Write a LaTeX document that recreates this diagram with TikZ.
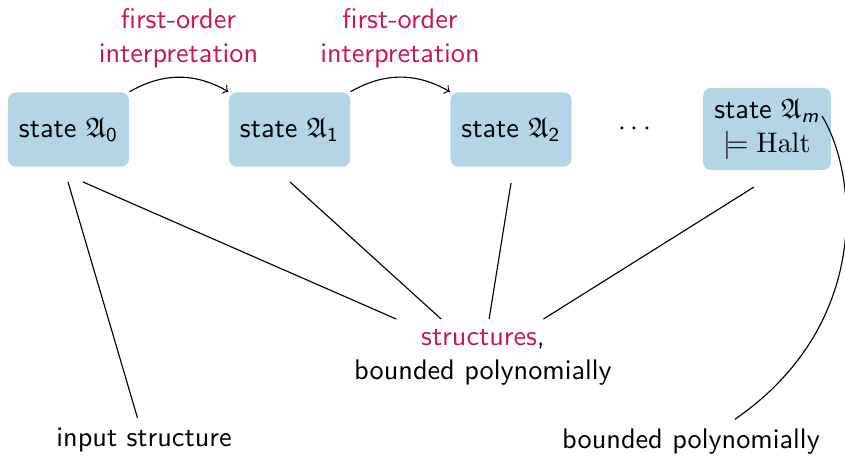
\documentclass[tikz,border=0pt]{standalone}
\usepackage{amsmath,amssymb}
\definecolor{mag}{RGB}{200,22,90}
\definecolor{boxblue}{RGB}{179,213,230}
\begin{document}
\begin{tikzpicture}[x=0.3535pt,y=-0.3535pt,
  every node/.style={font=\sffamily},
  statebox/.style={fill=boxblue,rounded corners=2.8pt,minimum width=42.8pt,minimum height=26.3pt,inner sep=2pt},
  lbl/.style={text=mag,align=center},
  conn/.style={line width=0.4pt}]
\useasboundingbox (0,0) rectangle (845,456);
\node[statebox] (a0) at (68.5,129.5) {state $\mathfrak{A}_{\mathsf{0}}$};
\node[statebox] (a1) at (289.5,129.5) {state $\mathfrak{A}_{\mathsf{1}}$};
\node[statebox] (a2) at (511,129.5) {state $\mathfrak{A}_{\mathsf{2}}$};
\node (dots) at (637,129) {$\cdots$};
\node[statebox,minimum width=45.2pt,minimum height=29pt,align=center] (am) at (767,129)
  {state $\mathfrak{A}_{\text{\sffamily\itshape m}}$\\ $\models \mathrm{Halt}$};
\node[lbl] (l1) at (178.5,38.5) {first-order\\interpretation};
\node[lbl] (l2) at (400,38.5) {first-order\\interpretation};
\node[align=center] (st) at (483,357) {\textcolor{mag}{structures},\\bounded polynomially};
\node (inp) at (144,440) {input structure};
\node (bp) at (691,442) {bounded polynomially};
\coordinate (c0) at (83,182);
\coordinate (c1) at (290,182);
\coordinate (c2) at (511,183);
\coordinate (cm) at (754,187);
\coordinate (ci) at (68,182);
\coordinate (mstart) at (822,116);
\draw[->] (a0.north east) to[bend left=30] (a1.north west);
\draw[->] (a1.north east) to[bend left=30] (a2.north west);
\draw[conn] (c0) -- (st);
\draw[conn] (c1) -- (st);
\draw[conn] (c2) -- (st);
\draw[conn] (cm) -- (st);
\draw[conn] (ci) -- (inp);
\draw[conn] (mstart) .. controls (858,175) and (872,325) .. ([xshift=15.5pt]bp.north);
\end{tikzpicture}
\end{document}
